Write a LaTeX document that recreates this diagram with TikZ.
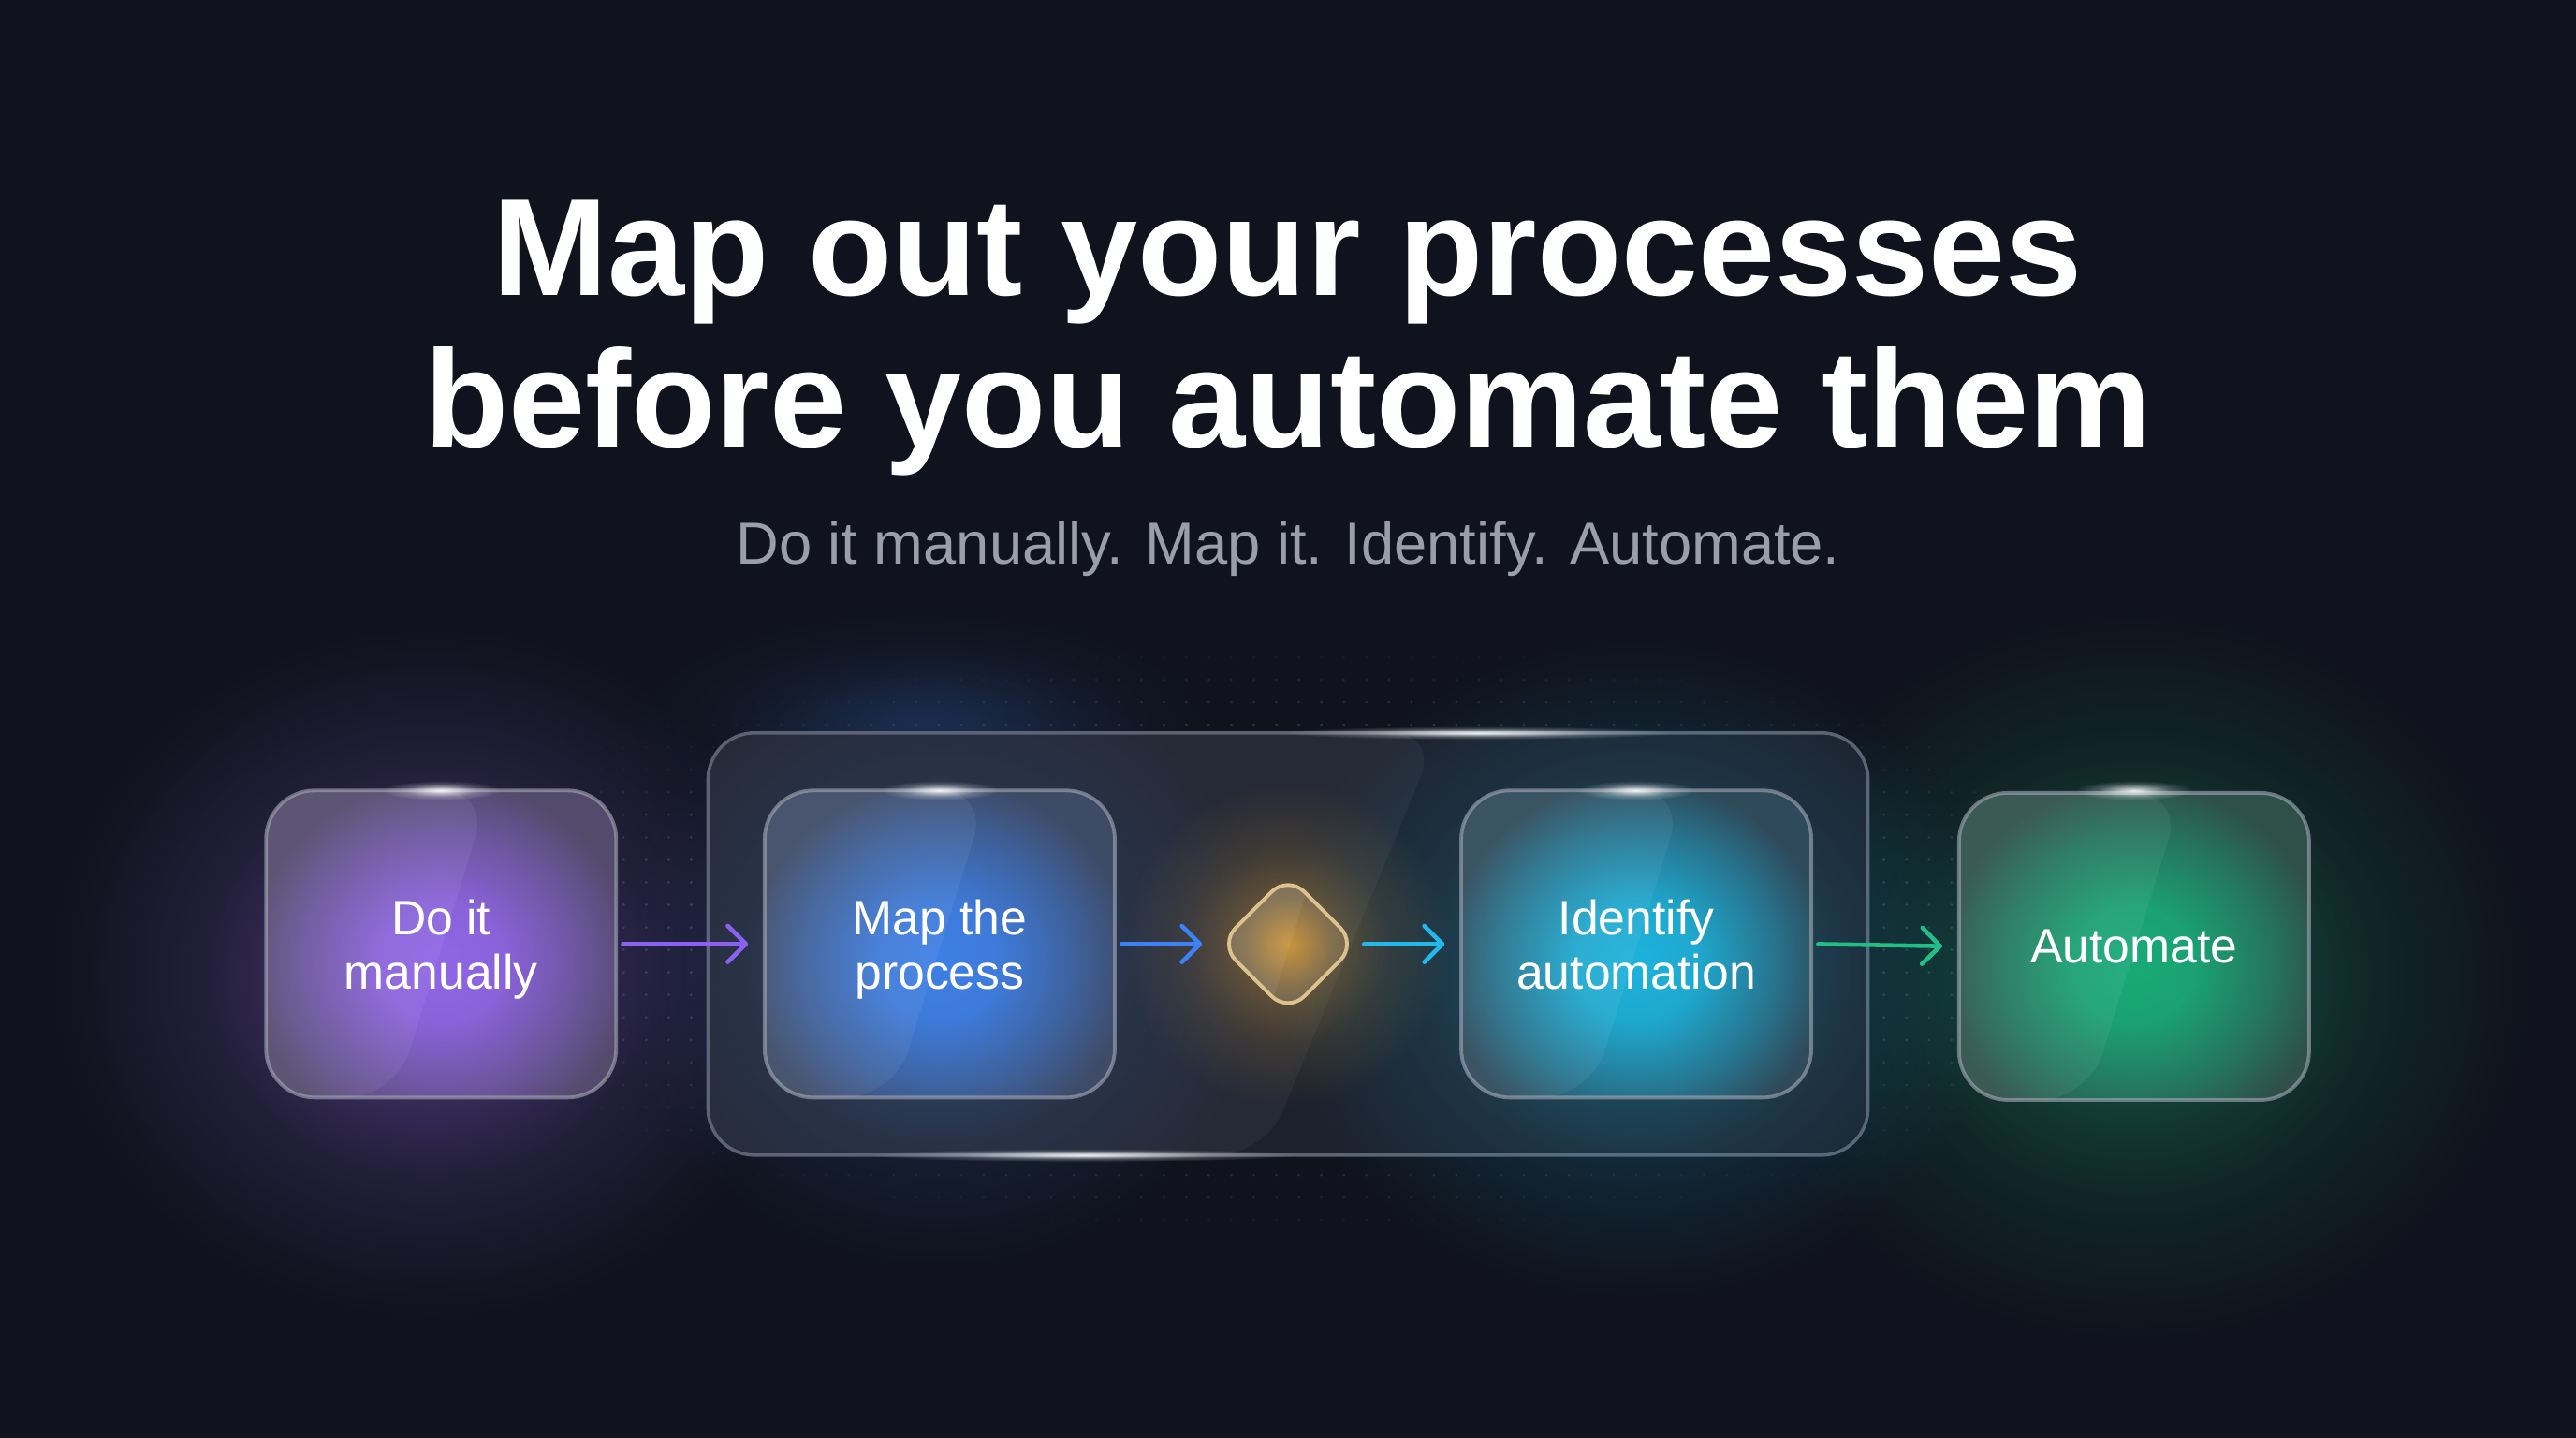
\documentclass[tikz,border=0pt]{standalone}
\usepackage{fontspec}
\setmainfont{Liberation Sans}
\usetikzlibrary{arrows.meta,shapes.geometric,fadings}

\definecolor{bgnavy}{HTML}{10131D}
\definecolor{subgrey}{HTML}{9A9EA8}
\definecolor{rimgrey}{HTML}{A6ABB8}
\definecolor{dotgrey}{HTML}{4A5162}
\definecolor{frameline}{HTML}{5E6270}
\definecolor{framefill}{HTML}{1D212D}
\definecolor{manualglow}{HTML}{9066E6}
\definecolor{manualedge}{HTML}{544B6C}
\definecolor{mapglow}{HTML}{3F80E6}
\definecolor{mapedge}{HTML}{3E4B66}
\definecolor{identglow}{HTML}{1DB3DC}
\definecolor{identedge}{HTML}{2F4A5A}
\definecolor{autoglow}{HTML}{19AA78}
\definecolor{autoedge}{HTML}{2F5049}
\definecolor{gateglow}{HTML}{D39A3C}
\definecolor{gateedge}{HTML}{6B6354}
\definecolor{gaterim}{HTML}{DCC38E}
\definecolor{arrpurple}{HTML}{8B62F0}
\definecolor{arrblue}{HTML}{3B82F6}
\definecolor{arrcyan}{HTML}{22B8EA}
\definecolor{arrgreen}{HTML}{20BF86}

% soft round glows (edge of the path = 25bp)
\pgfdeclareradialshading{softglowshade}{\pgfpointorigin}{color(0bp)=(transparent!0); color(6bp)=(transparent!30); color(15bp)=(transparent!75); color(25bp)=(transparent!100); color(50bp)=(transparent!100)}
\pgfdeclarefading{softglow}{\pgfuseshading{softglowshade}}
\pgfdeclareradialshading{broadglowshade}{\pgfpointorigin}{color(0bp)=(transparent!0); color(8bp)=(transparent!10); color(18bp)=(transparent!60); color(25bp)=(transparent!100); color(50bp)=(transparent!100)}
\pgfdeclarefading{broadglow}{\pgfuseshading{broadglowshade}}

\tikzset{
  halo/.style={fill=#1, path fading=softglow},
  gloss/.style={fill=white, opacity=0.06},
  glass/.style 2 args={rounded corners=0.52cm, minimum width=3.74cm, minimum height=3.28cm,
    inner sep=0pt, fill=#2, draw=rimgrey, draw opacity=0.6, line width=1.1pt,
    text=white, align=center, text depth=0pt, font=\fontsize{14.7}{16.5}\selectfont,
    path picture={
      \fill[#1, path fading=broadglow] ([yshift=-0.2cm]path picture bounding box.center) ellipse [x radius=2.05cm, y radius=1.95cm];
      \fill[gloss] (path picture bounding box.north west) -- ([xshift=0.52cm]path picture bounding box.north)
        -- ([xshift=-0.49cm]path picture bounding box.south) -- (path picture bounding box.south west) -- cycle;
    }},
  flow/.style={line width=1.3pt, line cap=round, shorten <=1.5pt, shorten >=4.5pt,
    -{Straight Barb[round, length=5.5pt, width=11pt]}},
  headline/.style={text=white, font=\fontsize{42}{46}\selectfont\bfseries, anchor=base},
  tagline/.style={text=subgrey, font=\fontsize{18}{22}\selectfont, anchor=base}
}

\begin{document}
\begin{tikzpicture}[x=0.017551cm, y=-0.017551cm]
  \fill[bgnavy] (0,0) rectangle (1568,875);
  \useasboundingbox (0,0) rectangle (1568,875);

  % headline
  \node[headline] (title1) at (784,180) {Map out your processes};
  \node[headline] (title2) at (784,272) {before you automate them};
  \node[tagline] (tagline) at (784,343) {Do it manually. Map it. Identify. Automate.};

  % dotted field
  \foreach \i in {0,...,75} {
    \foreach \j in {0,...,25} {
      \pgfmathsetmacro{\dotx}{270+13.7*\i}
      \pgfmathsetmacro{\doty}{400+13.7*\j}
      \pgfmathsetmacro{\dotmix}{max(0,1-((\dotx-784)/560)^2-((\doty-572)/185)^2)*100}
      \fill[dotgrey!\dotmix!bgnavy] (\dotx,\doty) circle[radius=0.9];
    }
  }

  % outer haze
  \fill[halo=manualglow, opacity=0.55] (262,592) ellipse [x radius=230, y radius=210];
  \fill[halo=autoglow, opacity=0.5] (1299,595) ellipse [x radius=240, y radius=220];
  \fill[halo=mapglow, opacity=0.2] (560,440) ellipse [x radius=180, y radius=70];

  % container
  \node[rounded corners=0.5cm, minimum width=12.39cm, minimum height=4.51cm, fill=framefill,
    draw=frameline, line width=1pt,
    path picture={\fill[white, opacity=0.045] (path picture bounding box.north west)
      -- ([xshift=1.61cm]path picture bounding box.north) -- ([xshift=-0.25cm]path picture bounding box.south)
      -- (path picture bounding box.south west) -- cycle;}] (stage) at (784,574.5) {};

  \fill[halo=mapglow, opacity=0.4] (572,585) ellipse [x radius=200, y radius=190];
  \fill[halo=gateglow, opacity=0.55] (784,575) ellipse [x radius=100, y radius=100];
  \fill[halo=identglow, opacity=0.5] (996,590) ellipse [x radius=220, y radius=200];

  % steps
  \node[glass={manualglow}{manualedge}] (manual) at (268.5,574.5) {Do it\\manually};
  \node[glass={mapglow}{mapedge}] (mapping) at (572,574.5) {Map the\\process};
  \node[glass={identglow}{identedge}] (identify) at (996,574.5) {Identify\\automation};
  \node[glass={autoglow}{autoedge}] (automate) at (1299,576) {Automate};
  \node[diamond, aspect=1, minimum width=1.48cm, minimum height=1.48cm, inner sep=0pt,
    rounded corners=7pt, fill=gateedge, draw=gaterim, line width=1.1pt,
    path picture={\fill[gateglow, path fading=softglow, opacity=0.9] (path picture bounding box.center) circle[radius=0.8cm];
      \fill[gloss] (path picture bounding box.north west) -- ([xshift=0.25cm]path picture bounding box.north)
        -- ([xshift=-0.2cm]path picture bounding box.south) -- (path picture bounding box.south west) -- cycle;}]
    (gate) at (784,574.5) {};

  % rim highlights
  \foreach \hx in {268.5,572,996,1299}
    \fill[halo=white, opacity=0.9] (\hx,481) ellipse [x radius=36, y radius=6];
  \fill[halo=white, opacity=0.9] (900,446) ellipse [x radius=120, y radius=4];
  \fill[halo=white, opacity=0.9] (660,703) ellipse [x radius=130, y radius=4];

  % connectors
  \draw[flow, arrpurple] (manual.east) -- (mapping.west);
  \draw[flow, arrblue] (mapping.east) -- (gate.west);
  \draw[flow, arrcyan] (gate.east) -- (identify.west);
  \draw[flow, arrgreen] (identify.east) -- (automate.west);
\end{tikzpicture}
\end{document}
